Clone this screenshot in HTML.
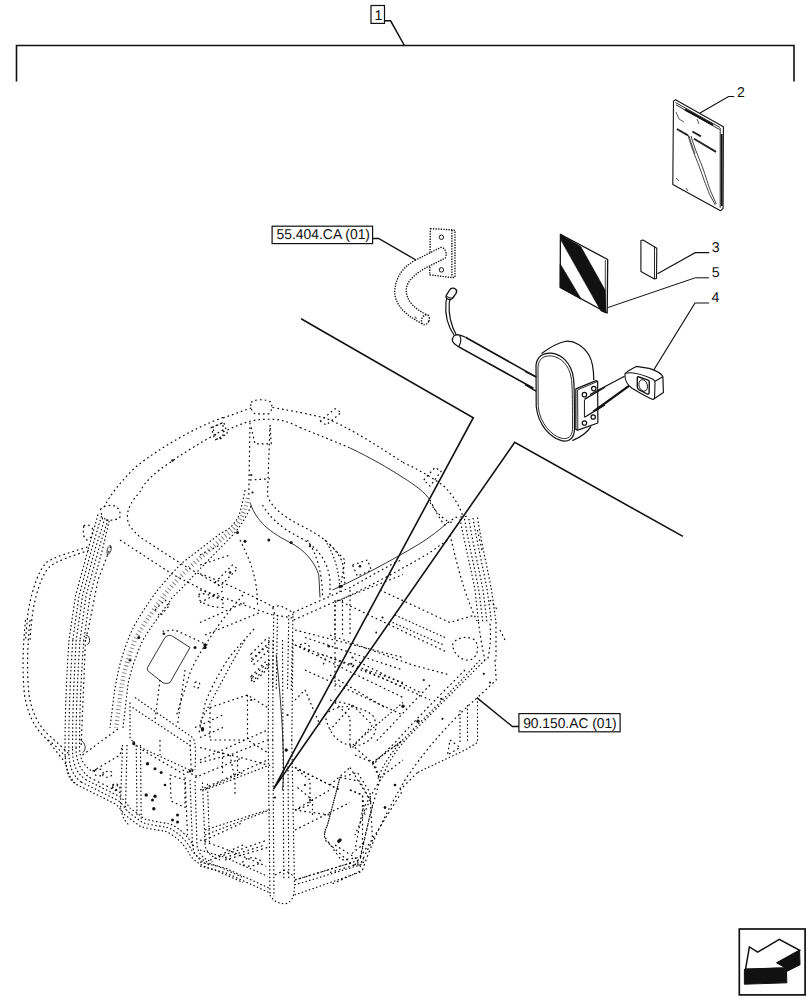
<!DOCTYPE html>
<html><head><meta charset="utf-8">
<style>
html,body{margin:0;padding:0;background:#fff;}
body{width:812px;height:1000px;overflow:hidden;position:relative;}
svg{position:absolute;left:0;top:0;}
.lbl{font-family:"Liberation Sans",sans-serif;fill:#111;}
</style></head><body>
<svg width="812" height="1000" viewBox="0 0 812 1000">
<!--CAB-->
<g fill="none" stroke="#000" stroke-linecap="butt" stroke-linejoin="round">
<path d="M 223.0,417.5 C 195.0,427.5 160.0,447.5 135.0,467.5 C 120.0,482.5 110.0,495.0 103.8,507.5" stroke-width="1.15" stroke-dasharray="1.7 3.0"/>
<path d="M 223.0,430.0 C 205.0,440.0 180.0,455.0 170.0,462.5 C 155.0,472.5 143.8,482.5 140.0,491.8 C 132.5,500.0 128.0,507.0 127.5,515.0 C 127.0,520.0 128.8,526.2 131.5,528.0 C 135.0,532.5 140.0,537.5 141.8,538.2 L 181.5,564.0 L 223.0,587.5" stroke-width="1.15" stroke-dasharray="1.7 3.0"/>
<path d="M 120.0,540.0 L 172.8,574.5 L 223.0,600.0" stroke-width="1.15" stroke-dasharray="1.7 3.0"/>
<path d="M 100.5,509.5 C 102.5,505.5 110.0,504.5 116.2,506.2 C 120.0,510.0 121.2,515.0 119.5,518.0 C 115.0,520.5 107.5,521.2 102.5,518.8 Z" stroke-width="1.15" stroke-dasharray="1.7 3.0"/>
<path d="M 83.8,526.2 C 85.5,523.8 90.0,524.5 92.5,528.8 C 93.0,533.8 91.2,538.8 87.5,540.0 C 83.8,539.5 82.5,533.8 83.8,526.2 Z" stroke-width="1.15" stroke-dasharray="1.7 3.0"/>
<path d="M 98.0,514.5 C 93.8,530.0 90.0,542.5 88.5,548.0 L 75.5,596.0 L 69.0,640.0" stroke-width="1.1" stroke-dasharray="1.5 2.3"/>
<path d="M 101.5,516.2 L 92.0,548.0 L 79.0,596.0 L 72.8,640.0" stroke-width="1.1" stroke-dasharray="1.5 2.3"/>
<path d="M 105.0,518.0 L 95.5,548.0 L 82.5,596.0 L 76.2,640.0" stroke-width="1.1" stroke-dasharray="1.5 2.3"/>
<path d="M 108.0,519.5 L 99.0,548.0 L 86.0,596.0 L 80.0,640.0" stroke-width="1.1" stroke-dasharray="1.5 2.3"/>
<path d="M 109.2,520.8 L 102.8,548.0 L 90.0,596.0 L 83.8,640.0" stroke-width="1.1" stroke-dasharray="1.5 2.3"/>
<path d="M 110.8,546.5 L 98.0,580.0 L 88.5,628.0 L 85.5,640.0" stroke-width="1.15" stroke-dasharray="1.7 3.0"/>
<path d="M 107.5,555.0 C 106.2,550.0 108.0,546.2 110.5,545.5 C 112.0,548.0 111.2,552.5 107.5,555.0" stroke-width="0.8"/>
<path d="M 87.5,547.0 C 70.0,552.5 52.5,557.5 46.2,562.5 C 37.5,572.5 32.5,590.0 28.8,607.5 C 27.0,620.0 26.2,632.5 25.5,640.0" stroke-width="1.15" stroke-dasharray="1.7 3.0"/>
<path d="M 88.8,550.5 C 72.5,555.5 55.0,561.8 49.5,566.8 C 41.2,575.5 36.2,593.0 33.0,610.5 C 31.2,623.0 30.5,633.0 30.0,640.0" stroke-width="1.15" stroke-dasharray="1.7 3.0"/>
<path d="M 198.8,595.0 C 200.0,592.5 205.0,593.0 223.0,600.0 L 223.0,607.5 C 212.5,607.5 202.5,603.8 199.5,600.0 Z" stroke-width="1.15" stroke-dasharray="1.7 3.0"/>
<path d="M 155.0,610.0 L 165.0,600.0 L 170.0,605.0 L 160.0,616.2 Z" stroke-width="1.15" stroke-dasharray="1.7 3.0"/>
<path d="M 212.5,427.5 L 223.0,422.5 L 223.0,437.5 L 217.5,440.0 Z" stroke-width="1.15" stroke-dasharray="1.7 3.0"/>
<circle cx="172.5" cy="460.5" r="1.31" fill="#151515" stroke="none"/>
<path d="M 223.0,418.0 C 235.0,413.8 245.0,410.0 252.5,407.5" stroke-width="1.15" stroke-dasharray="1.7 3.0"/>
<path d="M 272.5,407.5 C 295.0,411.2 312.5,415.0 325.0,418.0 C 350.0,427.5 380.0,447.5 403.0,462.5" stroke-width="1.15" stroke-dasharray="1.7 3.0"/>
<path d="M 251.2,402.5 C 253.8,398.8 267.5,398.8 271.2,402.5 C 272.5,406.2 272.0,411.2 268.8,413.8 L 255.0,413.8 C 251.2,411.2 250.0,406.2 251.2,402.5 Z" stroke-width="1.15" stroke-dasharray="1.7 3.0"/>
<path d="M 223.0,432.0 C 232.5,427.5 241.2,423.8 250.0,421.2 C 260.0,418.8 272.5,418.8 280.0,420.0 C 290.0,422.5 295.0,425.0 300.0,427.5" stroke-width="1.15" stroke-dasharray="1.7 3.0"/>
<path d="M 300.0,427.5 C 325.0,437.5 340.0,443.8 350.0,448.0" stroke-width="1.15" stroke-dasharray="1.7 3.0"/>
<path d="M 350.0,448.0 C 370.0,457.5 387.5,467.5 403.0,477.5" stroke-width="0.8"/>
<path d="M 211.2,427.5 L 223.8,422.5 L 227.5,433.8 L 215.0,440.0 Z" stroke-width="1.15" stroke-dasharray="1.7 3.0"/>
<path d="M 320.0,421.2 L 335.0,408.8 L 341.2,412.5 L 326.2,425.0 Z" stroke-width="1.15" stroke-dasharray="1.7 3.0"/>
<path d="M 250.0,422.5 L 248.8,495.0" stroke-width="1.15" stroke-dasharray="1.7 3.0"/>
<path d="M 270.0,425.0 L 267.5,495.0 C 270.0,505.0 280.0,515.0 300.0,525.0 C 320.0,535.0 335.0,545.0 342.5,562.5 L 345.0,585.0" stroke-width="1.15" stroke-dasharray="1.7 3.0"/>
<path d="M 251.2,427.5 L 255.0,443.8 L 271.2,443.8 L 270.0,425.0" stroke-width="1.15" stroke-dasharray="1.7 3.0"/>
<path d="M 250.0,502.5 C 255.0,517.5 265.0,530.0 290.0,542.5 C 305.0,550.0 315.0,562.5 318.8,575.0 L 320.0,597.5" stroke-width="0.8"/>
<path d="M 262.5,505.0 C 270.0,517.5 280.0,527.5 300.0,537.5 C 317.5,547.5 327.5,560.0 330.0,580.0 L 330.0,597.5" stroke-width="1.15" stroke-dasharray="1.7 3.0"/>
<path d="M 250.0,480.0 L 270.0,478.8" stroke-width="1.15" stroke-dasharray="1.7 3.0"/>
<circle cx="237.5" cy="532.5" r="1.50" fill="#151515" stroke="none"/>
<circle cx="245.0" cy="541.2" r="1.50" fill="#151515" stroke="none"/>
<circle cx="268.8" cy="540.0" r="1.50" fill="#151515" stroke="none"/>
<circle cx="291.2" cy="542.5" r="1.50" fill="#151515" stroke="none"/>
<circle cx="251.2" cy="475.0" r="1.12" fill="#151515" stroke="none"/>
<circle cx="252.5" cy="492.5" r="1.12" fill="#151515" stroke="none"/>
<path d="M 200.0,573.8 C 225.0,582.5 250.0,595.0 273.8,607.0" stroke-width="1.15" stroke-dasharray="1.7 3.0"/>
<path d="M 200.0,590.0 C 225.0,597.5 250.0,607.5 272.5,615.0" stroke-width="1.15" stroke-dasharray="1.7 3.0"/>
<path d="M 272.5,607.0 L 280.0,605.5 L 293.0,612.5 L 292.5,618.0 L 275.0,615.0 Z" stroke-width="1.15" stroke-dasharray="1.7 3.0"/>
<path d="M 273.8,613.8 L 272.5,690.0" stroke-width="1.1" stroke-dasharray="1.5 2.3"/>
<path d="M 277.5,615.0 L 276.2,690.0" stroke-width="1.1" stroke-dasharray="1.5 2.3"/>
<path d="M 288.8,615.0 L 287.5,690.0" stroke-width="1.1" stroke-dasharray="1.5 2.3"/>
<path d="M 293.0,616.2 L 291.2,690.0" stroke-width="1.1" stroke-dasharray="1.5 2.3"/>
<path d="M 293.0,612.5 L 350.0,587.5 L 395.0,562.5 L 403.0,559.5" stroke-width="1.15" stroke-dasharray="1.7 3.0"/>
<path d="M 293.8,620.0 L 330.0,603.8 L 403.0,574.5" stroke-width="1.15" stroke-dasharray="1.7 3.0"/>
<path d="M 251.2,653.8 L 266.2,638.8 C 268.8,636.2 271.2,638.8 268.8,642.5 L 253.8,657.5 C 251.2,659.5 249.5,657.0 251.2,653.8 Z" stroke-width="1.15" stroke-dasharray="1.7 3.0"/>
<path d="M 251.2,676.2 L 266.2,661.2 C 268.8,658.8 271.2,661.2 268.8,665.0 L 253.8,680.0 C 251.2,682.0 249.5,679.5 251.2,676.2 Z" stroke-width="1.15" stroke-dasharray="1.7 3.0"/>
<path d="M 295.0,645.0 L 403.0,682.5" stroke-width="1.15" stroke-dasharray="1.7 3.0"/>
<path d="M 305.0,637.5 L 403.0,670.0" stroke-width="1.15" stroke-dasharray="1.7 3.0"/>
<path d="M 295.0,630.0 L 403.0,657.5" stroke-width="1.15" stroke-dasharray="1.7 3.0"/>
<path d="M 200.0,565.0 L 230.0,555.0 M 200.0,555.0 L 220.0,545.0" stroke-width="1.15" stroke-dasharray="1.7 3.0"/>
<path d="M 215.0,582.5 L 232.5,565.0 L 237.5,568.8 L 220.0,586.2 Z" stroke-width="1.15" stroke-dasharray="1.7 3.0"/>
<path d="M 200.0,602.5 L 225.0,590.0 M 200.0,622.5 L 245.0,602.5 M 205.0,635.0 L 260.0,612.5" stroke-width="1.15" stroke-dasharray="1.7 3.0"/>
<path d="M 240.0,540.0 C 250.0,560.0 257.5,577.5 257.5,605.0" stroke-width="1.15" stroke-dasharray="1.7 3.0"/>
<path d="M 307.5,540.0 C 317.5,555.0 322.5,575.0 322.5,597.5" stroke-width="1.15" stroke-dasharray="1.7 3.0"/>
<path d="M 325.0,540.0 C 335.0,555.0 340.0,575.0 340.0,592.5" stroke-width="1.1" stroke-dasharray="1.5 2.3"/>
<path d="M 335.0,600.0 L 335.0,635.0 M 350.0,590.0 L 350.0,635.0" stroke-width="1.15" stroke-dasharray="1.7 3.0"/>
<circle cx="230.0" cy="572.5" r="1.31" fill="#151515" stroke="none"/>
<circle cx="205.0" cy="645.0" r="1.50" fill="#151515" stroke="none"/>
<circle cx="310.0" cy="546.2" r="1.12" fill="#151515" stroke="none"/>
<circle cx="340.0" cy="586.2" r="1.31" fill="#151515" stroke="none"/>
<path d="M 403.0,462.5 C 425.0,472.5 435.0,480.0 442.5,485.0 C 452.5,493.8 458.8,505.0 462.5,515.0" stroke-width="1.15" stroke-dasharray="1.7 3.0"/>
<path d="M 403.0,477.5 C 415.0,485.0 425.0,492.5 430.0,500.0" stroke-width="0.8"/>
<path d="M 423.8,480.0 L 435.0,467.5 L 441.2,471.2 L 430.0,486.2 Z" stroke-width="1.15" stroke-dasharray="1.7 3.0"/>
<path d="M 430.0,500.0 C 435.0,510.0 440.0,520.0 445.0,525.0 L 455.0,517.5 L 468.0,516.2" stroke-width="1.15" stroke-dasharray="1.7 3.0"/>
<path d="M 430.0,502.5 C 437.5,515.0 447.5,522.5 452.5,522.5" stroke-width="1.15" stroke-dasharray="1.7 3.0"/>
<path d="M 460.0,518.8 C 465.0,545.0 471.2,570.0 475.0,590.0 L 478.5,622.0" stroke-width="1.1" stroke-dasharray="1.5 2.3"/>
<path d="M 464.5,518.8 C 469.0,545.0 475.0,570.0 478.8,590.0 L 482.8,622.0" stroke-width="1.1" stroke-dasharray="1.5 2.3"/>
<path d="M 468.8,518.8 C 473.2,545.0 479.2,570.0 483.0,590.0 L 487.0,622.0" stroke-width="1.1" stroke-dasharray="1.5 2.3"/>
<path d="M 473.0,518.0 C 477.5,545.0 483.5,570.0 487.2,590.0 L 491.5,622.0" stroke-width="1.1" stroke-dasharray="1.5 2.3"/>
<path d="M 477.5,517.5 C 481.8,545.0 487.8,570.0 491.5,590.0 L 496.0,622.0" stroke-width="1.1" stroke-dasharray="1.5 2.3"/>
<path d="M 496.0,622.0 L 496.0,660.0" stroke-width="1.15" stroke-dasharray="1.7 3.0"/>
<path d="M 450.0,535.0 C 456.2,560.0 462.5,590.0 477.0,621.0" stroke-width="1.15" stroke-dasharray="1.7 3.0"/>
<path d="M 477.5,530.0 L 482.5,552.5 M 490.0,600.0 L 497.5,610.0 M 500.0,630.0 L 505.0,640.0" stroke-width="1.15" stroke-dasharray="1.7 3.0"/>
<path d="M 332.5,590.0 C 355.0,580.0 392.5,560.0 417.5,545.0 C 430.0,537.5 442.5,527.5 447.5,522.5" stroke-width="0.8"/>
<path d="M 335.0,602.5 C 367.5,587.5 405.0,567.5 430.0,552.5 L 447.5,540.0" stroke-width="1.15" stroke-dasharray="1.7 3.0"/>
<path d="M 330.0,545.0 L 345.0,560.0 L 340.0,590.0" stroke-width="1.15" stroke-dasharray="1.7 3.0"/>
<path d="M 352.5,565.0 L 367.5,560.0 L 371.2,570.0 L 357.5,576.2 Z" stroke-width="1.15" stroke-dasharray="1.7 3.0"/>
<path d="M 337.5,600.0 L 447.5,652.5" stroke-width="1.15" stroke-dasharray="1.7 3.0"/>
<path d="M 395.0,615.0 L 445.0,637.5" stroke-width="1.1" stroke-dasharray="1.5 2.3"/>
<path d="M 392.5,622.5 L 443.8,645.0" stroke-width="1.1" stroke-dasharray="1.5 2.3"/>
<path d="M 380.0,590.0 L 450.0,622.5 L 475.0,615.0" stroke-width="1.15" stroke-dasharray="1.7 3.0"/>
<path d="M 330.0,635.0 L 412.5,665.0 L 450.0,675.0" stroke-width="1.15" stroke-dasharray="1.7 3.0"/>
<path d="M 330.0,657.5 L 405.0,687.5" stroke-width="1.15" stroke-dasharray="1.7 3.0"/>
<path d="M 335.0,605.0 L 335.0,690.0 M 342.5,600.0 L 342.5,635.0" stroke-width="1.15" stroke-dasharray="1.7 3.0"/>
<path d="M 452.5,645.0 C 455.0,637.5 467.5,635.0 475.0,640.0 C 480.0,647.5 477.5,657.5 470.0,660.0 C 462.5,661.2 453.8,655.0 452.5,645.0 Z" stroke-width="1.15" stroke-dasharray="1.7 3.0"/>
<path d="M 478.5,622.0 C 480.0,635.0 482.5,650.0 485.0,660.0" stroke-width="1.15" stroke-dasharray="1.7 3.0"/>
<path d="M 490.0,623.8 C 491.2,637.5 490.0,650.0 487.5,660.0" stroke-width="1.15" stroke-dasharray="1.7 3.0"/>
<circle cx="360.0" cy="566.2" r="1.31" fill="#151515" stroke="none"/>
<circle cx="341.2" cy="586.2" r="1.50" fill="#151515" stroke="none"/>
<circle cx="382.5" cy="617.5" r="1.12" fill="#151515" stroke="none"/>
<circle cx="352.5" cy="657.5" r="1.12" fill="#151515" stroke="none"/>
<circle cx="376.2" cy="632.5" r="0.94" fill="#151515" stroke="none"/>
<path d="M 25.5,620.0 C 23.0,645.0 22.0,670.0 24.5,695.0 C 28.0,715.0 34.5,727.5 45.0,737.5 C 55.0,745.0 63.0,752.5 67.5,760.0" stroke-width="1.15" stroke-dasharray="1.7 3.0"/>
<path d="M 30.0,620.0 C 27.5,645.0 26.5,670.0 29.0,695.0 C 32.0,712.5 38.2,725.0 47.5,733.8 C 57.0,742.5 64.0,748.8 68.8,753.8" stroke-width="1.15" stroke-dasharray="1.7 3.0"/>
<path d="M 69.0,640.0 C 67.0,670.0 65.0,707.5 65.0,750.0" stroke-width="1.1" stroke-dasharray="1.5 2.3"/>
<path d="M 72.8,640.0 C 70.8,670.0 68.8,707.5 68.8,750.0" stroke-width="1.1" stroke-dasharray="1.5 2.3"/>
<path d="M 76.2,640.0 C 74.5,670.0 72.5,707.5 72.5,748.8" stroke-width="1.1" stroke-dasharray="1.5 2.3"/>
<path d="M 80.0,640.0 C 78.0,670.0 76.0,707.5 76.0,747.5" stroke-width="1.1" stroke-dasharray="1.5 2.3"/>
<path d="M 83.8,640.0 C 81.5,670.0 79.5,707.5 79.5,746.2" stroke-width="1.1" stroke-dasharray="1.5 2.3"/>
<path d="M 85.5,640.0 L 81.2,745.0" stroke-width="1.15" stroke-dasharray="1.7 3.0"/>
<path d="M 85.5,635.0 C 90.0,635.0 91.2,642.5 87.0,645.0 M 80.5,740.0 C 85.5,742.5 87.0,750.0 82.5,752.5" stroke-width="0.8"/>
<path d="M 82.5,755.0 L 120.0,727.5" stroke-width="1.15" stroke-dasharray="1.7 3.0"/>
<path d="M 135.0,697.5 L 192.5,737.5 C 195.0,740.0 196.2,745.0 195.0,770.0" stroke-width="1.1" stroke-dasharray="1.5 2.3"/>
<path d="M 132.5,707.5 L 191.2,746.2" stroke-width="1.1" stroke-dasharray="1.5 2.3"/>
<path d="M 130.0,702.5 L 130.0,737.5 L 135.0,745.0 L 195.0,772.5" stroke-width="1.1" stroke-dasharray="1.5 2.3"/>
<path d="M 147.5,667.5 L 165.0,637.5 C 167.5,635.0 170.0,635.0 172.5,636.2 L 190.0,647.5 L 170.0,682.5 C 167.5,683.8 165.0,683.8 162.5,682.5 L 150.0,672.5 C 147.5,671.2 147.0,669.5 147.5,667.5" stroke-width="0.8"/>
<path d="M 162.5,631.2 L 175.0,630.0 L 207.5,645.0" stroke-width="1.15" stroke-dasharray="1.7 3.0"/>
<path d="M 160.0,680.0 L 155.0,720.0 M 185.0,670.0 L 177.5,725.0" stroke-width="1.15" stroke-dasharray="1.7 3.0"/>
<path d="M 195.0,727.5 L 223.0,715.0 M 200.0,737.5 L 223.0,727.5" stroke-width="1.15" stroke-dasharray="1.7 3.0"/>
<path d="M 95.0,770.0 C 100.0,767.5 105.0,770.0 102.5,775.0 C 97.5,777.5 92.5,775.0 95.0,770.0" stroke-width="1.15" stroke-dasharray="1.7 3.0"/>
<circle cx="138.8" cy="637.5" r="1.50" fill="#151515" stroke="none"/>
<circle cx="130.0" cy="660.0" r="1.50" fill="#151515" stroke="none"/>
<circle cx="195.0" cy="647.5" r="1.50" fill="#151515" stroke="none"/>
<circle cx="205.0" cy="645.0" r="1.50" fill="#151515" stroke="none"/>
<circle cx="163.8" cy="633.8" r="1.31" fill="#151515" stroke="none"/>
<circle cx="202.5" cy="730.0" r="1.50" fill="#151515" stroke="none"/>
<circle cx="192.5" cy="770.0" r="1.12" fill="#151515" stroke="none"/>
<circle cx="133.8" cy="742.5" r="1.31" fill="#151515" stroke="none"/>
<path d="M 195.0,682.5 C 198.8,680.0 201.2,683.8 198.8,687.5 C 195.0,690.0 192.5,686.2 195.0,682.5" stroke-width="1.15" stroke-dasharray="1.7 3.0"/>
<path d="M 112.5,785.0 C 115.0,782.5 118.8,785.0 117.5,788.8 C 115.0,791.2 111.2,788.8 112.5,785.0" stroke-width="1.15" stroke-dasharray="1.7 3.0"/>
<path d="M 268.8,640.0 L 268.2,740.0" stroke-width="1.1" stroke-dasharray="1.5 2.3"/>
<path d="M 273.0,640.0 L 272.8,740.0" stroke-width="1.1" stroke-dasharray="1.5 2.3"/>
<path d="M 282.5,640.0 L 283.0,740.0" stroke-width="1.1" stroke-dasharray="1.5 2.3"/>
<path d="M 293.0,640.0 L 291.8,740.0" stroke-width="1.1" stroke-dasharray="1.5 2.3"/>
<path d="M 276.2,655.0 C 282.5,715.0 285.0,765.0 282.5,790.0" stroke-width="0.8"/>
<path d="M 245.0,640.0 C 230.0,665.0 215.0,695.0 200.0,722.5" stroke-width="1.1" stroke-dasharray="1.5 2.3"/>
<path d="M 252.5,660.0 L 265.0,647.5 C 267.5,646.2 270.0,648.8 267.5,651.2 L 255.0,663.8 C 252.5,665.0 250.0,662.5 252.5,660.0 Z" stroke-width="1.15" stroke-dasharray="1.7 3.0"/>
<path d="M 252.5,677.5 L 265.0,665.0 C 267.5,663.8 270.0,666.2 267.5,668.8 L 255.0,681.2 C 252.5,682.5 250.0,680.0 252.5,677.5 Z" stroke-width="1.15" stroke-dasharray="1.7 3.0"/>
<path d="M 210.0,707.5 L 247.5,695.0 L 267.5,707.5 M 247.5,695.0 L 247.5,740.0 L 267.5,752.5 M 210.0,740.0 L 247.5,740.0" stroke-width="1.15" stroke-dasharray="1.7 3.0"/>
<path d="M 210.0,707.5 L 210.0,740.0" stroke-width="1.15" stroke-dasharray="1.7 3.0"/>
<path d="M 200.0,760.0 L 267.5,730.0" stroke-width="1.15" stroke-dasharray="1.7 3.0"/>
<path d="M 200.0,790.0 L 267.5,760.0" stroke-width="1.15" stroke-dasharray="1.7 3.0"/>
<path d="M 205.0,830.0 L 267.5,810.0" stroke-width="1.1" stroke-dasharray="1.5 2.3"/>
<path d="M 210.0,860.0 L 267.5,840.0" stroke-width="1.15" stroke-dasharray="1.7 3.0"/>
<path d="M 200.0,747.5 L 250.0,760.0 L 267.5,765.0" stroke-width="1.15" stroke-dasharray="1.7 3.0"/>
<path d="M 222.5,752.5 L 222.5,775.0 M 237.5,760.0 L 237.5,777.5" stroke-width="1.15" stroke-dasharray="1.7 3.0"/>
<path d="M 295.0,645.0 L 403.0,697.5" stroke-width="1.15" stroke-dasharray="1.7 3.0"/>
<path d="M 305.0,670.0 L 403.0,715.0" stroke-width="1.15" stroke-dasharray="1.7 3.0"/>
<path d="M 295.0,767.5 L 340.0,790.0" stroke-width="1.15" stroke-dasharray="1.7 3.0"/>
<path d="M 295.0,810.0 L 330.0,790.0" stroke-width="1.15" stroke-dasharray="1.7 3.0"/>
<path d="M 295.0,700.0 L 305.0,690.0 L 320.0,725.0 M 335.0,702.5 L 350.0,717.5 L 350.0,745.0" stroke-width="1.15" stroke-dasharray="1.7 3.0"/>
<path d="M 325.0,715.0 C 335.0,705.0 355.0,702.5 372.5,715.0 C 380.0,727.5 375.0,740.0 360.0,745.0 C 345.0,747.5 330.0,740.0 325.0,715.0 Z" stroke-width="1.15" stroke-dasharray="1.7 3.0"/>
<path d="M 340.0,777.5 L 360.0,781.2 L 372.5,805.0 L 360.0,857.5 L 341.2,860.0 L 325.0,837.5 C 323.8,832.5 325.0,830.0 327.5,825.0 Z" stroke-width="1.15" stroke-dasharray="1.7 3.0"/>
<path d="M 350.0,790.0 L 362.5,795.0 L 365.0,815.0" stroke-width="1.15" stroke-dasharray="1.7 3.0"/>
<path d="M 350.0,747.5 L 403.0,702.5" stroke-width="1.1" stroke-dasharray="1.5 2.3"/>
<path d="M 372.5,762.5 L 403.0,740.0" stroke-width="1.1" stroke-dasharray="1.5 2.3"/>
<path d="M 355.0,755.0 L 372.5,762.5 L 380.0,780.0 L 370.0,815.0 L 360.0,860.0" stroke-width="1.15" stroke-dasharray="1.7 3.0"/>
<path d="M 225.0,860.0 L 267.5,847.5" stroke-width="1.15" stroke-dasharray="1.7 3.0"/>
<path d="M 295.0,880.0 L 360.0,860.0" stroke-width="1.1" stroke-dasharray="1.5 2.3"/>
<path d="M 297.5,770.0 L 310.0,780.0 L 310.0,805.0 L 295.0,810.0" stroke-width="1.15" stroke-dasharray="1.7 3.0"/>
<path d="M 300.0,645.0 C 307.5,640.0 312.5,647.5 307.5,652.5 M 317.5,655.0 C 325.0,652.5 327.5,660.0 322.5,665.0" stroke-width="1.15" stroke-dasharray="1.7 3.0"/>
<circle cx="205.0" cy="647.5" r="1.69" fill="#151515" stroke="none"/>
<circle cx="202.5" cy="728.8" r="1.69" fill="#151515" stroke="none"/>
<circle cx="328.8" cy="646.2" r="1.31" fill="#151515" stroke="none"/>
<circle cx="351.2" cy="663.8" r="1.12" fill="#151515" stroke="none"/>
<circle cx="340.0" cy="840.0" r="1.50" fill="#151515" stroke="none"/>
<circle cx="385.0" cy="807.5" r="1.12" fill="#151515" stroke="none"/>
<circle cx="395.0" cy="785.0" r="1.12" fill="#151515" stroke="none"/>
<circle cx="305.0" cy="785.0" r="1.12" fill="#151515" stroke="none"/>
<circle cx="310.0" cy="800.0" r="1.12" fill="#151515" stroke="none"/>
<circle cx="286.2" cy="750.0" r="1.50" fill="#151515" stroke="none"/>
<circle cx="287.5" cy="715.0" r="1.12" fill="#151515" stroke="none"/>
<circle cx="251.2" cy="700.0" r="1.12" fill="#151515" stroke="none"/>
<path d="M 495.0,660.0 L 496.2,680.0 L 477.5,697.5 C 455.0,717.5 430.0,742.5 405.0,780.0 C 387.5,810.0 372.5,840.0 362.5,870.0 L 330.0,885.0" stroke-width="1.15" stroke-dasharray="1.7 3.0"/>
<path d="M 485.0,660.0 C 460.0,685.0 435.0,710.0 412.5,732.5 C 397.5,747.5 387.5,762.5 382.5,777.5" stroke-width="1.1" stroke-dasharray="1.5 2.3"/>
<path d="M 480.0,660.0 C 455.0,687.5 430.0,712.5 407.5,735.0 C 392.5,750.0 382.5,765.0 377.5,780.0" stroke-width="1.1" stroke-dasharray="1.5 2.3"/>
<path d="M 465.0,670.0 C 440.0,695.0 417.5,717.5 397.5,740.0 C 385.0,752.5 377.5,760.0 372.5,765.0" stroke-width="1.15" stroke-dasharray="1.7 3.0"/>
<path d="M 430.0,685.0 C 410.0,705.0 392.5,725.0 375.0,742.5" stroke-width="1.15" stroke-dasharray="1.7 3.0"/>
<path d="M 477.5,697.5 L 477.5,742.5 L 465.0,750.0 L 417.5,772.5" stroke-width="1.1" stroke-dasharray="1.5 2.3"/>
<path d="M 460.0,710.0 L 460.0,742.5 M 467.5,705.0 L 467.5,742.5" stroke-width="1.1" stroke-dasharray="1.5 2.3"/>
<path d="M 450.0,740.0 L 460.0,747.5 L 447.5,755.0 Z" stroke-width="1.15" stroke-dasharray="1.7 3.0"/>
<path d="M 417.5,772.5 L 400.0,790.0" stroke-width="1.15" stroke-dasharray="1.7 3.0"/>
<path d="M 355.0,747.5 L 375.0,765.0 L 380.0,780.0 L 362.5,810.0 L 355.0,850.0" stroke-width="1.15" stroke-dasharray="1.7 3.0"/>
<path d="M 350.0,767.5 L 370.0,800.0 L 355.0,835.0" stroke-width="1.15" stroke-dasharray="1.7 3.0"/>
<path d="M 330.0,785.0 L 350.0,767.5" stroke-width="1.15" stroke-dasharray="1.7 3.0"/>
<path d="M 335.0,845.0 L 355.0,857.5 L 362.5,870.0" stroke-width="1.15" stroke-dasharray="1.7 3.0"/>
<path d="M 330.0,872.5 L 362.5,862.5" stroke-width="1.15" stroke-dasharray="1.7 3.0"/>
<path d="M 355.0,660.0 L 420.0,692.5 M 365.0,670.0 L 430.0,700.0 M 330.0,675.0 L 385.0,707.5" stroke-width="1.15" stroke-dasharray="1.7 3.0"/>
<path d="M 330.0,700.0 L 352.5,705.0 L 372.5,725.0 L 352.5,747.5" stroke-width="1.15" stroke-dasharray="1.7 3.0"/>
<path d="M 352.5,705.0 L 330.0,730.0" stroke-width="1.15" stroke-dasharray="1.7 3.0"/>
<circle cx="403.0" cy="706.2" r="1.69" fill="#151515" stroke="none"/>
<circle cx="418.0" cy="721.2" r="1.69" fill="#151515" stroke="none"/>
<circle cx="423.8" cy="680.0" r="1.12" fill="#151515" stroke="none"/>
<circle cx="441.2" cy="698.8" r="1.12" fill="#151515" stroke="none"/>
<circle cx="442.5" cy="718.8" r="1.12" fill="#151515" stroke="none"/>
<circle cx="395.0" cy="785.0" r="1.12" fill="#151515" stroke="none"/>
<circle cx="385.0" cy="807.5" r="1.12" fill="#151515" stroke="none"/>
<circle cx="340.0" cy="840.0" r="1.50" fill="#151515" stroke="none"/>
<circle cx="490.0" cy="682.5" r="1.12" fill="#151515" stroke="none"/>
<circle cx="483.8" cy="673.8" r="1.12" fill="#151515" stroke="none"/>
<path d="M 47.5,740.0 C 55.0,750.0 63.8,760.0 66.2,765.0" stroke-width="1.15" stroke-dasharray="1.7 3.0"/>
<path d="M 65.0,750.0 C 65.0,765.0 67.5,777.5 77.5,785.0" stroke-width="1.1" stroke-dasharray="1.5 2.3"/>
<path d="M 68.8,750.0 C 68.8,763.8 71.5,775.0 81.2,782.0" stroke-width="1.1" stroke-dasharray="1.5 2.3"/>
<path d="M 72.5,748.8 C 72.5,762.5 75.5,772.5 85.5,779.5" stroke-width="1.1" stroke-dasharray="1.5 2.3"/>
<path d="M 76.0,747.5 C 76.0,760.0 79.5,770.0 89.5,777.5" stroke-width="1.1" stroke-dasharray="1.5 2.3"/>
<path d="M 79.5,746.2 C 79.5,757.5 83.0,766.2 92.5,771.2" stroke-width="1.1" stroke-dasharray="1.5 2.3"/>
<path d="M 66.2,765.0 C 67.5,775.0 70.0,781.2 77.5,785.0 L 115.0,803.8 C 120.0,807.5 122.5,812.5 125.0,815.0 L 140.0,826.2 C 147.5,828.8 157.5,830.0 165.0,831.2 C 175.0,835.0 185.0,845.0 190.0,855.0 C 195.0,862.5 205.0,867.5 215.0,870.0 L 243.0,882.5" stroke-width="1.1" stroke-dasharray="1.5 2.3"/>
<path d="M 81.2,782.0 L 118.0,800.5 C 123.0,804.2 125.5,809.2 128.0,811.8 L 142.5,822.5 C 150.0,825.0 160.0,826.2 167.5,827.5 C 177.5,831.2 187.0,841.2 192.0,850.5 C 197.0,858.0 207.0,863.0 217.0,865.8 L 243.0,877.5" stroke-width="1.1" stroke-dasharray="1.5 2.3"/>
<path d="M 85.5,779.5 L 120.5,797.0 C 125.5,801.0 128.0,806.0 130.5,808.5 L 144.5,818.8 C 152.0,821.2 162.0,822.5 169.5,823.8 C 179.5,827.5 188.8,837.5 193.8,846.2" stroke-width="1.1" stroke-dasharray="1.5 2.3"/>
<path d="M 89.5,777.5 L 122.5,793.8" stroke-width="1.15" stroke-dasharray="1.7 3.0"/>
<path d="M 92.5,771.2 L 120.0,755.0 L 122.5,745.0" stroke-width="1.15" stroke-dasharray="1.7 3.0"/>
<path d="M 122.5,745.0 L 120.5,805.0 C 121.0,815.0 125.0,822.5 130.0,825.5" stroke-width="1.1" stroke-dasharray="1.5 2.3"/>
<path d="M 127.0,745.0 L 125.5,810.0" stroke-width="1.1" stroke-dasharray="1.5 2.3"/>
<path d="M 136.2,745.0 L 137.0,815.0" stroke-width="1.1" stroke-dasharray="1.5 2.3"/>
<path d="M 140.5,745.0 L 141.2,820.0" stroke-width="1.1" stroke-dasharray="1.5 2.3"/>
<path d="M 142.5,750.0 L 185.0,775.0 L 187.5,835.0" stroke-width="1.15" stroke-dasharray="1.7 3.0"/>
<path d="M 170.0,775.0 L 185.0,780.0 L 185.0,807.5 L 171.2,801.2 Z" stroke-width="1.15" stroke-dasharray="1.7 3.0"/>
<path d="M 160.0,740.0 L 160.0,755.0 M 190.0,740.0 L 191.2,770.0" stroke-width="1.15" stroke-dasharray="1.7 3.0"/>
<path d="M 190.0,780.0 L 192.5,845.0 C 193.8,855.0 200.0,862.5 210.0,865.0" stroke-width="1.1" stroke-dasharray="1.5 2.3"/>
<path d="M 195.0,781.2 L 197.0,845.0 C 198.0,853.8 203.8,859.5 212.5,862.0" stroke-width="1.1" stroke-dasharray="1.5 2.3"/>
<path d="M 202.5,782.5 L 205.0,845.0 C 206.2,852.5 212.5,857.5 220.0,860.0" stroke-width="1.1" stroke-dasharray="1.5 2.3"/>
<path d="M 207.5,783.8 L 209.5,843.8" stroke-width="1.1" stroke-dasharray="1.5 2.3"/>
<path d="M 195.0,777.5 L 243.0,757.5" stroke-width="1.15" stroke-dasharray="1.7 3.0"/>
<path d="M 202.5,790.0 L 243.0,772.5" stroke-width="1.1" stroke-dasharray="1.5 2.3"/>
<path d="M 205.0,840.0 L 243.0,822.5" stroke-width="1.15" stroke-dasharray="1.7 3.0"/>
<path d="M 220.0,855.0 L 243.0,845.0" stroke-width="1.15" stroke-dasharray="1.7 3.0"/>
<path d="M 182.5,770.0 L 200.0,777.5" stroke-width="1.15" stroke-dasharray="1.7 3.0"/>
<path d="M 102.5,775.0 C 105.0,770.0 112.5,770.0 112.5,773.8 C 111.2,777.5 105.0,778.8 102.5,775.0 M 112.5,786.2 C 115.0,782.5 120.0,783.8 120.0,787.5 C 118.8,791.2 113.8,791.2 112.5,786.2" stroke-width="1.15" stroke-dasharray="1.7 3.0"/>
<circle cx="147.5" cy="763.8" r="1.69" fill="#151515" stroke="none"/>
<circle cx="155.0" cy="768.8" r="1.50" fill="#151515" stroke="none"/>
<circle cx="161.2" cy="772.5" r="1.50" fill="#151515" stroke="none"/>
<circle cx="146.2" cy="795.0" r="1.69" fill="#151515" stroke="none"/>
<circle cx="155.0" cy="796.2" r="1.69" fill="#151515" stroke="none"/>
<circle cx="152.5" cy="800.0" r="1.50" fill="#151515" stroke="none"/>
<circle cx="153.8" cy="808.8" r="1.69" fill="#151515" stroke="none"/>
<circle cx="172.5" cy="820.0" r="1.50" fill="#151515" stroke="none"/>
<circle cx="177.5" cy="822.0" r="1.50" fill="#151515" stroke="none"/>
<circle cx="177.5" cy="815.0" r="1.50" fill="#151515" stroke="none"/>
<circle cx="165.0" cy="785.0" r="1.31" fill="#151515" stroke="none"/>
<circle cx="133.8" cy="743.8" r="1.50" fill="#151515" stroke="none"/>
<circle cx="190.0" cy="771.2" r="1.31" fill="#151515" stroke="none"/>
<path d="M 268.2,740.0 L 270.0,895.0" stroke-width="1.1" stroke-dasharray="1.5 2.3"/>
<path d="M 272.8,740.0 L 274.0,896.2" stroke-width="1.1" stroke-dasharray="1.5 2.3"/>
<path d="M 283.0,740.0 L 283.8,880.0" stroke-width="1.1" stroke-dasharray="1.5 2.3"/>
<path d="M 288.0,762.5 L 288.8,880.0" stroke-width="1.1" stroke-dasharray="1.5 2.3"/>
<path d="M 291.8,740.0 L 294.5,885.0" stroke-width="1.1" stroke-dasharray="1.5 2.3"/>
<path d="M 270.0,895.0 C 272.5,900.0 277.5,903.8 285.0,903.8 C 291.2,902.5 294.5,897.5 294.5,885.0" stroke-width="1.1" stroke-dasharray="1.5 2.3"/>
<path d="M 275.0,875.0 L 285.0,870.0 L 293.8,876.2" stroke-width="1.15" stroke-dasharray="1.7 3.0"/>
<path d="M 200.0,866.0 L 225.0,872.5 L 270.0,893.0" stroke-width="1.1" stroke-dasharray="1.5 2.3"/>
<path d="M 200.0,862.0 L 225.0,868.0 L 268.8,888.0" stroke-width="1.1" stroke-dasharray="1.5 2.3"/>
<path d="M 200.0,850.0 L 225.0,857.5 L 267.5,876.2" stroke-width="1.1" stroke-dasharray="1.5 2.3"/>
<path d="M 200.0,840.0 L 225.0,848.8 L 266.2,866.2" stroke-width="1.15" stroke-dasharray="1.7 3.0"/>
<path d="M 294.5,885.0 L 360.0,865.0 C 363.8,863.8 365.0,861.2 362.5,857.5" stroke-width="1.1" stroke-dasharray="1.5 2.3"/>
<path d="M 294.5,895.0 L 362.5,871.2" stroke-width="1.1" stroke-dasharray="1.5 2.3"/>
<path d="M 295.0,880.0 L 352.5,862.5" stroke-width="1.15" stroke-dasharray="1.7 3.0"/>
<path d="M 340.0,777.5 L 357.5,772.5 L 370.0,792.5 L 372.5,840.0 L 360.0,865.0 L 352.5,865.0 L 325.0,840.0 C 323.8,835.0 325.0,830.0 327.5,825.0 Z" stroke-width="1.15" stroke-dasharray="1.7 3.0"/>
<path d="M 350.0,790.0 L 362.5,795.0 L 362.5,845.0 L 350.0,855.0" stroke-width="1.15" stroke-dasharray="1.7 3.0"/>
<path d="M 295.0,767.5 L 310.0,775.0 L 340.0,790.0 M 295.0,810.0 L 330.0,815.0 M 295.0,830.0 L 350.0,802.5 M 297.5,787.5 L 312.5,800.0 L 312.5,815.0" stroke-width="1.15" stroke-dasharray="1.7 3.0"/>
<path d="M 205.0,790.0 L 270.0,765.0" stroke-width="1.1" stroke-dasharray="1.5 2.3"/>
<path d="M 205.0,835.0 L 270.0,810.0" stroke-width="1.1" stroke-dasharray="1.5 2.3"/>
<path d="M 225.0,857.5 L 265.0,845.0" stroke-width="1.15" stroke-dasharray="1.7 3.0"/>
<path d="M 200.0,762.5 L 230.0,755.0 L 267.5,740.0" stroke-width="1.15" stroke-dasharray="1.7 3.0"/>
<path d="M 230.0,755.0 L 235.0,780.0 L 235.0,795.0" stroke-width="1.15" stroke-dasharray="1.7 3.0"/>
<path d="M 242.5,862.5 C 245.0,857.5 252.5,856.2 260.0,860.0 C 261.2,863.8 255.0,866.2 247.5,866.2 C 243.8,865.5 242.0,864.5 242.5,862.5" stroke-width="1.15" stroke-dasharray="1.7 3.0"/>
<path d="M 372.5,762.5 L 403.0,740.0" stroke-width="1.15" stroke-dasharray="1.7 3.0"/>
<path d="M 380.0,777.5 L 403.0,760.0" stroke-width="1.15" stroke-dasharray="1.7 3.0"/>
<path d="M 355.0,865.0 L 375.0,835.0 L 403.0,790.0" stroke-width="1.15" stroke-dasharray="1.7 3.0"/>
<circle cx="338.8" cy="841.2" r="1.69" fill="#151515" stroke="none"/>
<circle cx="395.0" cy="785.0" r="1.31" fill="#151515" stroke="none"/>
<circle cx="385.0" cy="807.5" r="1.31" fill="#151515" stroke="none"/>
<circle cx="286.2" cy="750.0" r="1.50" fill="#151515" stroke="none"/>
<circle cx="275.0" cy="797.5" r="1.12" fill="#151515" stroke="none"/>
<path d="M 245.0,490.0 C 242.0,505.0 240.0,515.0 237.0,519.0 C 232.0,527.0 228.0,530.0 221.0,533.0 L 182.0,563.0 C 170.0,575.0 160.0,587.0 154.0,595.0 C 140.0,615.0 132.0,628.0 128.0,640.0 C 120.0,660.0 116.0,680.0 114.0,695.0 L 110.0,728.0" stroke-width="1.1" stroke-dasharray="1.5 2.3"/>
<path d="M 251.0,506.0 C 245.0,520.0 238.0,530.0 229.0,539.0 L 196.0,573.0 C 185.0,585.0 178.0,592.0 172.0,598.0 C 160.0,615.0 150.0,628.0 143.0,640.0 C 136.0,655.0 131.0,670.0 128.0,684.0 L 123.0,728.0" stroke-width="1.1" stroke-dasharray="1.5 2.3"/>
<path d="M 248.0,498.0 C 244.0,515.0 238.0,527.0 225.0,536.0 L 189.0,568.0 C 177.0,580.0 168.0,590.0 163.0,597.0 C 150.0,615.0 141.0,628.0 135.0,640.0 C 128.0,658.0 123.0,675.0 121.0,690.0 L 116.0,728.0" stroke="#777" stroke-width="4.5" stroke-dasharray="0.9 2.8"/>
<path d="M 254.0,629.0 C 240.0,645.0 230.0,655.0 225.0,664.0 C 215.0,680.0 208.0,695.0 205.0,704.0 L 199.0,733.0" stroke-width="1.15" stroke-dasharray="1.7 3.0"/>
<path d="M 243.0,595.0 C 230.0,610.0 222.0,620.0 216.0,629.0 C 205.0,645.0 195.0,660.0 190.0,673.0 L 176.0,717.0" stroke-width="1.15" stroke-dasharray="1.7 3.0"/>
</g>
<!--/CAB-->
<g fill="none" stroke="#111" stroke-width="1.4" stroke-linejoin="miter">
  <!-- top bracket -->
  <path d="M16.5,81.5 V45.5 H794 V81.5" stroke-width="1.6"/>
  <path d="M384.6,20.8 H390.6 L404.4,45.5" stroke-width="1.5"/>
  <rect x="371" y="5.5" width="13.5" height="17.9" stroke-width="1.2"/>
  <!-- big converging lines -->
  <path d="M301.1,318.7 L473.3,417.7 L273.5,789.1 L514.7,442.4 L682.9,536.4" stroke-width="1.6"/>
  <!-- label 55.404.CA -->
  <rect x="272.1" y="226.2" width="100.5" height="17.4" stroke-width="1.2"/>
  <path d="M372.6,238.5 H378.6 L416,260"/>
  <!-- label 90.150.AC -->
  <rect x="518.9" y="713.6" width="101.2" height="18.2" stroke-width="1.2"/>
  <path d="M477.1,697.9 L512.4,726.5 H519"/>
  <!-- leaders 2,3,5,4 -->
  <path d="M700,113 L728.6,96.5 H734.2" stroke-width="1.2"/>
  <path d="M657.5,273.8 L695.2,252.7 H709.2" stroke-width="1.2"/>
  <path d="M608.1,307.5 L695.2,277.8 H709" stroke-width="1"/>
  <path d="M650,376 L695,303 H709" stroke-width="1.2"/>
</g>
<!-- booklet 2 -->
<g fill="none" stroke="#111" stroke-width="1.1" stroke-linejoin="round">
  <path d="M673.5,100.9 L675.5,99.8 L723.4,126.8 L723.1,208.4 L720.5,210.8 L672.8,184.4 Z" fill="#fff"/>
  <path d="M675.5,102.5 L720,127.5 M676,104.8 L719.5,129.5" stroke-width="0.9"/>
  <path d="M685,109.5 L713,124.8" stroke-width="2"/>
  <path d="M720.2,128 L720.2,207.8" stroke-width="0.9"/>
  <path d="M721.7,134 L721.7,206" stroke-width="1.8"/>
  <path d="M688,135 C692,150 697,160 700.5,170 C704,180 707,188 709.4,194 L715.3,205" stroke-width="0.8"/><path d="M691,136 C695,150 700,160 703.5,170 C707,180 709,188 711.4,193 L716.3,204" stroke-width="0.8"/>
  <path d="M689,136 C692,146 694,150 695,154" stroke-width="0.7"/>
  <path d="M676,112 L679,119 L684,122 M697,119 L699,124 M686,188 L688,191 M676,178 L679,181" stroke-width="0.7"/>
</g>
<g stroke="#222" stroke-width="1.9" stroke-linecap="butt">
  <path d="M676.9,129 L688,135.3"/>
  <path d="M692.4,131.5 L700.9,136.4"/>
  <path d="M694,138.8 L716,151.9"/>
</g>
<!-- card 3 -->
<g fill="#fff" stroke="#111" stroke-width="1.1" stroke-linejoin="round">
  <path d="M640.9,240.5 L643,240 L656.8,248.3 L656.5,278.5 L654.5,279 L640.9,271.6 Z"/>
  <path d="M654.5,247 L654.5,279" fill="none" stroke-width="0.9"/>
</g>
<!-- hazard plate 5 -->
<g stroke="#111" stroke-linejoin="round">
  <path d="M560.4,234.3 L607.7,259.5 L607.2,313 L560.2,287.4 Z" fill="#fff" stroke-width="1.3"/>
  <path d="M560.4,234.3 L580.6,246.4 L605,290.1 L605.9,313 L600.9,310.8 L561.3,240.6 Z" fill="#111" stroke-width="0.8"/>
  <path d="M560.2,264 L581.1,299.1 L560.2,287.4 Z" fill="#111" stroke-width="0.8"/>
  <path d="M605.3,260 L605.3,312" fill="none" stroke-width="0.8"/>
</g>
<!-- arrow icon -->
<g stroke="#111" stroke-linejoin="miter">
  <rect x="739.3" y="929" width="65.8" height="65.9" fill="none" stroke-width="1.7"/>
  <path d="M745.5,969.3 L749.4,946.9 L757.7,952.1 L779.3,939.3 L799.6,950.3 L777.2,962.8 L786.2,967.9 Z" fill="#fff" stroke-width="1.5"/>
  <path d="M744.4,969.3 L786.2,967.9 L786.9,982.8 L744.4,984.2 Z" fill="#111" stroke-width="1"/>
  <path d="M799.6,950.3 L800,964.8 L786.2,971.7 L786.2,967.9 L777.2,962.8 Z" fill="#111" stroke-width="1"/>
</g>

<!-- mirror 4 (zoom coords scale 9.0875 origin 525,335) -->
<g transform="translate(525,335) scale(0.110041)" fill="none" stroke="#111" stroke-width="11" stroke-linejoin="round">
  <path d="M0,330 L100,380 M0,450 L100,510" stroke-width="13"/>
  <path d="M150,168 C230,110 300,70 370,57 C450,50 530,100 580,180 C615,240 625,320 625,410" fill="#fff"/>
  <path d="M600,830 C570,880 500,930 430,960"/>
  <path d="M100,280 C105,200 160,160 240,165 C330,175 420,250 440,390 C450,450 450,600 450,860 C445,950 390,975 330,960 C230,930 120,820 102,650 Z" fill="#fff"/>
  <path d="M118,290 C125,215 170,185 240,190 C320,200 405,270 422,400 C430,460 432,600 432,855 C428,930 385,950 330,938 C235,910 135,800 120,650 Z" stroke-width="8"/>
  <path d="M462,490 L645,415 L660,420 L662,800 L480,865 L462,858 Z" fill="#fff"/>
  <path d="M478,498 L480,862 M478,498 L660,422" stroke-width="8"/>
  <path d="M540,590 L540,750" stroke-width="9"/>
  <circle cx="540" cy="542" r="20"/><circle cx="625" cy="487" r="20"/>
  <circle cx="540" cy="800" r="20"/><circle cx="620" cy="745" r="20"/>
  <path d="M540,585 L727,475 M545,745 L727,635" stroke-width="12"/>
</g>
<!-- lamp (scale 10.15 origin 590,360) -->
<g transform="translate(590,360) scale(0.098522)" fill="none" stroke="#111" stroke-width="12" stroke-linejoin="round">
  <path d="M0,350 L350,165 M30,520 L400,255 M60,512 L395,268" stroke-width="13"/>
  <path d="M355,140 C370,115 420,90 470,65 L600,85 C650,100 720,130 740,170 L745,330 L640,400 C600,390 520,340 430,290 C380,260 350,200 355,140 Z" fill="#fff"/>
  <path d="M360,135 C420,118 520,140 640,195 C655,205 660,215 660,230 L655,395 M660,215 L740,170" stroke-width="11"/>
  <path d="M490,170 L590,205 C600,210 602,215 602,225 L600,335 C598,345 590,348 580,345 L495,300 C485,293 480,285 480,275 L480,180 C480,172 484,168 490,170 Z" stroke-width="14"/>
  <ellipse cx="540" cy="258" rx="42" ry="60" transform="rotate(-18 540 258)" stroke-width="9"/>
</g>
<!-- rod + cable (scale 6.767 origin 430,270) -->
<g transform="translate(430,270) scale(0.147776)" fill="none" stroke="#111" stroke-width="9" stroke-linejoin="round">
  <path d="M240,455 L720,725 M195,520 L700,800" stroke-width="11"/>
  <path d="M240,455 C225,448 200,440 185,437 C160,440 150,460 152,478 C155,495 170,505 195,520" fill="#fff"/>
  <path d="M200,442 C210,455 215,480 195,520" stroke-width="8"/>
  <path d="M165,445 C120,380 100,300 108,220 C110,200 114,185 118,175 M178,440 C140,370 125,300 130,225 C132,205 138,192 142,185" stroke-width="8"/>
  <path d="M110,172 L135,132 C142,122 160,118 172,128 C182,136 182,148 176,158 L152,192 C144,202 124,202 114,192 C106,185 106,178 110,172 Z" fill="#fff"/>
  <path d="M115,178 C130,190 150,192 165,180" stroke-width="7"/>
</g>

<!-- bracket 55.404.CA (scale 8.12 origin 370,220) -->
<g transform="translate(370,220) scale(0.123153)" fill="none" stroke="#111" stroke-width="11" stroke-dasharray="11 10" stroke-linejoin="round">
  <path d="M490,70 L670,80 L690,85 L690,465 L665,468 L485,445 Z"/>
  <path d="M665,82 L665,465"/>
  <circle cx="580" cy="140" r="18" stroke-dasharray="none" stroke-width="8"/>
  <circle cx="580" cy="405" r="18" stroke-dasharray="none" stroke-width="8"/>
  <path d="M370,325 C290,370 210,440 200,580 C200,680 280,770 420,840 L470,775 C360,720 300,660 295,580 C290,520 330,460 450,390 L610,310 C625,290 620,240 590,225 C585,222 575,222 570,225 Z" fill="#fff"/>
  <ellipse cx="450" cy="810" rx="30" ry="42" transform="rotate(25 450 810)" fill="#fff"/>
  <path d="M362,790 C375,785 380,800 370,805" stroke-dasharray="none" stroke-width="7"/>
</g>

<g class="lbl">
  <text text-rendering="geometricPrecision" x="374.6" y="19.7" font-size="14.2">1</text>
  <text text-rendering="geometricPrecision" x="276.5" y="239.2" font-size="14.2" textLength="93.5" lengthAdjust="spacingAndGlyphs">55.404.CA (01)</text>
  <text text-rendering="geometricPrecision" x="523.2" y="727.8" font-size="14.2" textLength="93.5" lengthAdjust="spacingAndGlyphs">90.150.AC (01)</text>
  <text text-rendering="geometricPrecision" x="737" y="97.1" font-size="14.2">2</text>
  <text text-rendering="geometricPrecision" x="711.8" y="252.3" font-size="14.2">3</text>
  <text text-rendering="geometricPrecision" x="711.8" y="277.2" font-size="14.2">5</text>
  <text text-rendering="geometricPrecision" x="711.5" y="301.8" font-size="14.2">4</text>
</g>
</svg>
</body></html>
